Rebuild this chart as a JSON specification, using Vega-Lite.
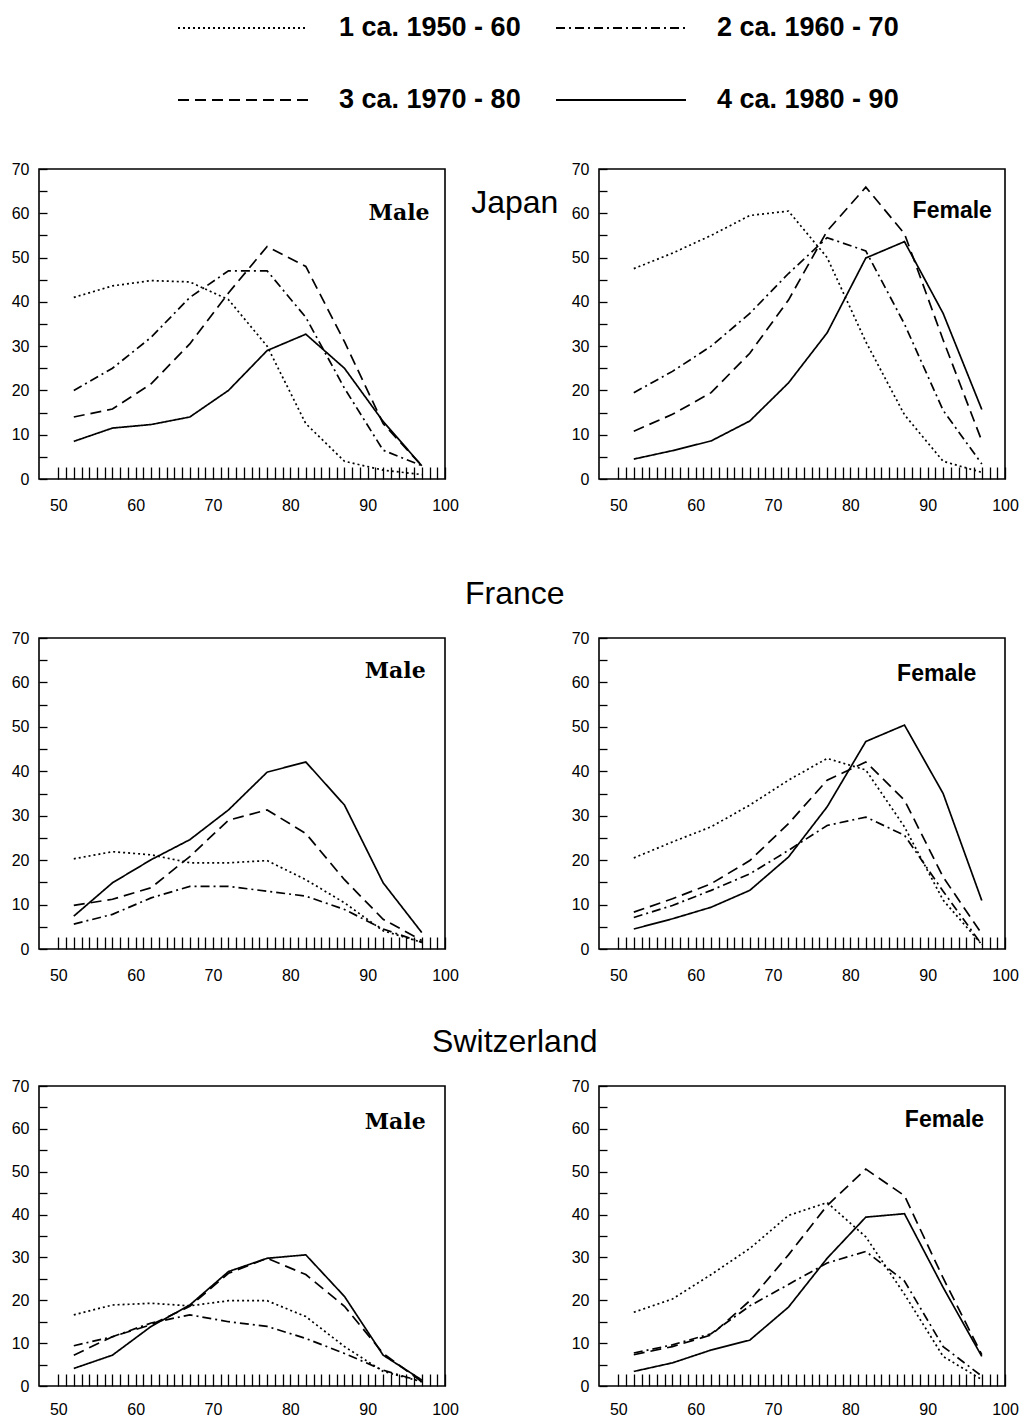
{
  "$schema": "https://vega.github.io/schema/vega-lite/v6.json",
  "padding": {"left": 10, "top": 13, "right": 0, "bottom": 0},
  "background": "white",
  "config": {
    "view": {"stroke": "black", "strokeWidth": 1.6},
    "axis": {"domain": false, "grid": false, "title": null, "format": "d", "labelFont": "Liberation Sans", "labelFontSize": 16, "labelColor": "black", "tickColor": "black", "tickWidth": 1.3, "labelOverlap": false, "labelFlush": false, "tickCount": 200},
    "axisX": {"tickSize": -12, "labelPadding": 30},
    "axisY": {"tickSize": -8, "labelPadding": 18},
    "title": {"font": "Liberation Sans", "fontSize": 32, "fontWeight": "normal", "color": "black"},
    "legend": {"orient": "none", "legendX": 138, "legendY": -156, "columns": 2, "direction": "horizontal", "symbolType": "stroke", "symbolSize": 16900, "symbolStrokeWidth": 2, "symbolStrokeColor": "black", "labelFont": "Liberation Sans", "labelFontSize": 27, "labelFontWeight": "bold", "labelColor": "black", "labelOffset": 30, "columnPadding": 34, "rowPadding": 42, "clipHeight": 30, "labelLimit": 400}
  },
  "resolve": {"scale": {"strokeDash": "shared"}, "legend": {"strokeDash": "shared"}},
  "data": {"values": [
    {"country":"Japan","sex":"Male","period":1,"age":52,"value":41},{"country":"Japan","sex":"Male","period":1,"age":57,"value":43.6},{"country":"Japan","sex":"Male","period":1,"age":62,"value":44.8},{"country":"Japan","sex":"Male","period":1,"age":67,"value":44.5},{"country":"Japan","sex":"Male","period":1,"age":72,"value":40.5},{"country":"Japan","sex":"Male","period":1,"age":77,"value":30},{"country":"Japan","sex":"Male","period":1,"age":82,"value":12.5},{"country":"Japan","sex":"Male","period":1,"age":87,"value":4},{"country":"Japan","sex":"Male","period":1,"age":92,"value":2},{"country":"Japan","sex":"Male","period":1,"age":97,"value":1},
    {"country":"Japan","sex":"Male","period":2,"age":52,"value":20},{"country":"Japan","sex":"Male","period":2,"age":57,"value":25},{"country":"Japan","sex":"Male","period":2,"age":62,"value":32},{"country":"Japan","sex":"Male","period":2,"age":67,"value":41},{"country":"Japan","sex":"Male","period":2,"age":72,"value":47},{"country":"Japan","sex":"Male","period":2,"age":77,"value":47},{"country":"Japan","sex":"Male","period":2,"age":82,"value":36.5},{"country":"Japan","sex":"Male","period":2,"age":87,"value":20.5},{"country":"Japan","sex":"Male","period":2,"age":92,"value":6.5},{"country":"Japan","sex":"Male","period":2,"age":97,"value":3},
    {"country":"Japan","sex":"Male","period":3,"age":52,"value":14},{"country":"Japan","sex":"Male","period":3,"age":57,"value":15.8},{"country":"Japan","sex":"Male","period":3,"age":62,"value":21.5},{"country":"Japan","sex":"Male","period":3,"age":67,"value":30.5},{"country":"Japan","sex":"Male","period":3,"age":72,"value":42},{"country":"Japan","sex":"Male","period":3,"age":77,"value":52.5},{"country":"Japan","sex":"Male","period":3,"age":82,"value":48},{"country":"Japan","sex":"Male","period":3,"age":87,"value":31},{"country":"Japan","sex":"Male","period":3,"age":92,"value":12.5},{"country":"Japan","sex":"Male","period":3,"age":97,"value":3},
    {"country":"Japan","sex":"Male","period":4,"age":52,"value":8.5},{"country":"Japan","sex":"Male","period":4,"age":57,"value":11.5},{"country":"Japan","sex":"Male","period":4,"age":62,"value":12.3},{"country":"Japan","sex":"Male","period":4,"age":67,"value":14},{"country":"Japan","sex":"Male","period":4,"age":72,"value":20},{"country":"Japan","sex":"Male","period":4,"age":77,"value":29},{"country":"Japan","sex":"Male","period":4,"age":82,"value":32.7},{"country":"Japan","sex":"Male","period":4,"age":87,"value":25},{"country":"Japan","sex":"Male","period":4,"age":92,"value":13},{"country":"Japan","sex":"Male","period":4,"age":97,"value":3},
    {"country":"Japan","sex":"Female","period":1,"age":52,"value":47.5},{"country":"Japan","sex":"Female","period":1,"age":57,"value":51},{"country":"Japan","sex":"Female","period":1,"age":62,"value":55},{"country":"Japan","sex":"Female","period":1,"age":67,"value":59.5},{"country":"Japan","sex":"Female","period":1,"age":72,"value":60.5},{"country":"Japan","sex":"Female","period":1,"age":77,"value":50},{"country":"Japan","sex":"Female","period":1,"age":82,"value":31},{"country":"Japan","sex":"Female","period":1,"age":87,"value":14.5},{"country":"Japan","sex":"Female","period":1,"age":92,"value":4},{"country":"Japan","sex":"Female","period":1,"age":97,"value":1.5},
    {"country":"Japan","sex":"Female","period":2,"age":52,"value":19.5},{"country":"Japan","sex":"Female","period":2,"age":57,"value":24.3},{"country":"Japan","sex":"Female","period":2,"age":62,"value":30},{"country":"Japan","sex":"Female","period":2,"age":67,"value":37.4},{"country":"Japan","sex":"Female","period":2,"age":72,"value":46.4},{"country":"Japan","sex":"Female","period":2,"age":77,"value":54.5},{"country":"Japan","sex":"Female","period":2,"age":82,"value":51.5},{"country":"Japan","sex":"Female","period":2,"age":87,"value":35},{"country":"Japan","sex":"Female","period":2,"age":92,"value":15.5},{"country":"Japan","sex":"Female","period":2,"age":97,"value":3.4},
    {"country":"Japan","sex":"Female","period":3,"age":52,"value":10.8},{"country":"Japan","sex":"Female","period":3,"age":57,"value":14.6},{"country":"Japan","sex":"Female","period":3,"age":62,"value":19.5},{"country":"Japan","sex":"Female","period":3,"age":67,"value":28.4},{"country":"Japan","sex":"Female","period":3,"age":72,"value":40.4},{"country":"Japan","sex":"Female","period":3,"age":77,"value":56},{"country":"Japan","sex":"Female","period":3,"age":82,"value":65.9},{"country":"Japan","sex":"Female","period":3,"age":87,"value":55.4},{"country":"Japan","sex":"Female","period":3,"age":92,"value":31.4},{"country":"Japan","sex":"Female","period":3,"age":97,"value":8.6},
    {"country":"Japan","sex":"Female","period":4,"age":52,"value":4.5},{"country":"Japan","sex":"Female","period":4,"age":57,"value":6.4},{"country":"Japan","sex":"Female","period":4,"age":62,"value":8.6},{"country":"Japan","sex":"Female","period":4,"age":67,"value":13.1},{"country":"Japan","sex":"Female","period":4,"age":72,"value":21.7},{"country":"Japan","sex":"Female","period":4,"age":77,"value":33},{"country":"Japan","sex":"Female","period":4,"age":82,"value":49.9},{"country":"Japan","sex":"Female","period":4,"age":87,"value":53.6},{"country":"Japan","sex":"Female","period":4,"age":92,"value":37.4},{"country":"Japan","sex":"Female","period":4,"age":97,"value":15.7},
    {"country":"France","sex":"Male","period":1,"age":52,"value":20.3},{"country":"France","sex":"Male","period":1,"age":57,"value":21.9},{"country":"France","sex":"Male","period":1,"age":62,"value":21.2},{"country":"France","sex":"Male","period":1,"age":67,"value":19.4},{"country":"France","sex":"Male","period":1,"age":72,"value":19.4},{"country":"France","sex":"Male","period":1,"age":77,"value":19.9},{"country":"France","sex":"Male","period":1,"age":82,"value":15.6},{"country":"France","sex":"Male","period":1,"age":87,"value":10.4},{"country":"France","sex":"Male","period":1,"age":92,"value":4.1},{"country":"France","sex":"Male","period":1,"age":97,"value":1.5},
    {"country":"France","sex":"Male","period":2,"age":52,"value":5.6},{"country":"France","sex":"Male","period":2,"age":57,"value":7.8},{"country":"France","sex":"Male","period":2,"age":62,"value":11.5},{"country":"France","sex":"Male","period":2,"age":67,"value":14.1},{"country":"France","sex":"Male","period":2,"age":72,"value":14.1},{"country":"France","sex":"Male","period":2,"age":77,"value":13},{"country":"France","sex":"Male","period":2,"age":82,"value":11.9},{"country":"France","sex":"Male","period":2,"age":87,"value":8.9},{"country":"France","sex":"Male","period":2,"age":92,"value":4.5},{"country":"France","sex":"Male","period":2,"age":97,"value":1.5},
    {"country":"France","sex":"Male","period":3,"age":52,"value":9.8},{"country":"France","sex":"Male","period":3,"age":57,"value":11.2},{"country":"France","sex":"Male","period":3,"age":62,"value":13.8},{"country":"France","sex":"Male","period":3,"age":67,"value":20.8},{"country":"France","sex":"Male","period":3,"age":72,"value":29},{"country":"France","sex":"Male","period":3,"age":77,"value":31.3},{"country":"France","sex":"Male","period":3,"age":82,"value":26},{"country":"France","sex":"Male","period":3,"age":87,"value":15.6},{"country":"France","sex":"Male","period":3,"age":92,"value":6.7},{"country":"France","sex":"Male","period":3,"age":97,"value":1.9},
    {"country":"France","sex":"Male","period":4,"age":52,"value":7.4},{"country":"France","sex":"Male","period":4,"age":57,"value":14.9},{"country":"France","sex":"Male","period":4,"age":62,"value":20.1},{"country":"France","sex":"Male","period":4,"age":67,"value":24.6},{"country":"France","sex":"Male","period":4,"age":72,"value":31.3},{"country":"France","sex":"Male","period":4,"age":77,"value":39.8},{"country":"France","sex":"Male","period":4,"age":82,"value":42.1},{"country":"France","sex":"Male","period":4,"age":87,"value":32.4},{"country":"France","sex":"Male","period":4,"age":92,"value":14.9},{"country":"France","sex":"Male","period":4,"age":97,"value":3.7},
    {"country":"France","sex":"Female","period":1,"age":52,"value":20.5},{"country":"France","sex":"Female","period":1,"age":57,"value":24.1},{"country":"France","sex":"Female","period":1,"age":62,"value":27.5},{"country":"France","sex":"Female","period":1,"age":67,"value":32.4},{"country":"France","sex":"Female","period":1,"age":72,"value":38},{"country":"France","sex":"Female","period":1,"age":77,"value":42.9},{"country":"France","sex":"Female","period":1,"age":82,"value":40.3},{"country":"France","sex":"Female","period":1,"age":87,"value":27.5},{"country":"France","sex":"Female","period":1,"age":92,"value":11},{"country":"France","sex":"Female","period":1,"age":97,"value":1},
    {"country":"France","sex":"Female","period":2,"age":52,"value":7.1},{"country":"France","sex":"Female","period":2,"age":57,"value":9.8},{"country":"France","sex":"Female","period":2,"age":62,"value":13.2},{"country":"France","sex":"Female","period":2,"age":67,"value":16.9},{"country":"France","sex":"Female","period":2,"age":72,"value":22.2},{"country":"France","sex":"Female","period":2,"age":77,"value":27.8},{"country":"France","sex":"Female","period":2,"age":82,"value":29.7},{"country":"France","sex":"Female","period":2,"age":87,"value":25.6},{"country":"France","sex":"Female","period":2,"age":92,"value":13},{"country":"France","sex":"Female","period":2,"age":97,"value":1},
    {"country":"France","sex":"Female","period":3,"age":52,"value":8.3},{"country":"France","sex":"Female","period":3,"age":57,"value":11.3},{"country":"France","sex":"Female","period":3,"age":62,"value":14.7},{"country":"France","sex":"Female","period":3,"age":67,"value":19.9},{"country":"France","sex":"Female","period":3,"age":72,"value":28.2},{"country":"France","sex":"Female","period":3,"age":77,"value":38},{"country":"France","sex":"Female","period":3,"age":82,"value":42.1},{"country":"France","sex":"Female","period":3,"age":87,"value":33.5},{"country":"France","sex":"Female","period":3,"age":92,"value":16.2},{"country":"France","sex":"Female","period":3,"age":97,"value":3.4},
    {"country":"France","sex":"Female","period":4,"age":52,"value":4.5},{"country":"France","sex":"Female","period":4,"age":57,"value":6.8},{"country":"France","sex":"Female","period":4,"age":62,"value":9.4},{"country":"France","sex":"Female","period":4,"age":67,"value":13.2},{"country":"France","sex":"Female","period":4,"age":72,"value":20.7},{"country":"France","sex":"Female","period":4,"age":77,"value":32},{"country":"France","sex":"Female","period":4,"age":82,"value":46.7},{"country":"France","sex":"Female","period":4,"age":87,"value":50.4},{"country":"France","sex":"Female","period":4,"age":92,"value":35},{"country":"France","sex":"Female","period":4,"age":97,"value":10.9},
    {"country":"Switzerland","sex":"Male","period":1,"age":52,"value":16.6},{"country":"Switzerland","sex":"Male","period":1,"age":57,"value":18.9},{"country":"Switzerland","sex":"Male","period":1,"age":62,"value":19.3},{"country":"Switzerland","sex":"Male","period":1,"age":67,"value":18.7},{"country":"Switzerland","sex":"Male","period":1,"age":72,"value":19.9},{"country":"Switzerland","sex":"Male","period":1,"age":77,"value":19.9},{"country":"Switzerland","sex":"Male","period":1,"age":82,"value":16.2},{"country":"Switzerland","sex":"Male","period":1,"age":87,"value":9.2},{"country":"Switzerland","sex":"Male","period":1,"age":92,"value":3.4},{"country":"Switzerland","sex":"Male","period":1,"age":97,"value":1},
    {"country":"Switzerland","sex":"Male","period":2,"age":52,"value":9.4},{"country":"Switzerland","sex":"Male","period":2,"age":57,"value":11.5},{"country":"Switzerland","sex":"Male","period":2,"age":62,"value":14.7},{"country":"Switzerland","sex":"Male","period":2,"age":67,"value":16.6},{"country":"Switzerland","sex":"Male","period":2,"age":72,"value":15},{"country":"Switzerland","sex":"Male","period":2,"age":77,"value":13.9},{"country":"Switzerland","sex":"Male","period":2,"age":82,"value":11.1},{"country":"Switzerland","sex":"Male","period":2,"age":87,"value":7.6},{"country":"Switzerland","sex":"Male","period":2,"age":92,"value":3.7},{"country":"Switzerland","sex":"Male","period":2,"age":97,"value":1},
    {"country":"Switzerland","sex":"Male","period":3,"age":52,"value":7.2},{"country":"Switzerland","sex":"Male","period":3,"age":57,"value":11.5},{"country":"Switzerland","sex":"Male","period":3,"age":62,"value":14.3},{"country":"Switzerland","sex":"Male","period":3,"age":67,"value":18.6},{"country":"Switzerland","sex":"Male","period":3,"age":72,"value":26.3},{"country":"Switzerland","sex":"Male","period":3,"age":77,"value":29.8},{"country":"Switzerland","sex":"Male","period":3,"age":82,"value":26},{"country":"Switzerland","sex":"Male","period":3,"age":87,"value":18.6},{"country":"Switzerland","sex":"Male","period":3,"age":92,"value":7.6},{"country":"Switzerland","sex":"Male","period":3,"age":97,"value":1},
    {"country":"Switzerland","sex":"Male","period":4,"age":52,"value":4.1},{"country":"Switzerland","sex":"Male","period":4,"age":57,"value":7.2},{"country":"Switzerland","sex":"Male","period":4,"age":62,"value":13.9},{"country":"Switzerland","sex":"Male","period":4,"age":67,"value":18.9},{"country":"Switzerland","sex":"Male","period":4,"age":72,"value":26.7},{"country":"Switzerland","sex":"Male","period":4,"age":77,"value":29.8},{"country":"Switzerland","sex":"Male","period":4,"age":82,"value":30.6},{"country":"Switzerland","sex":"Male","period":4,"age":87,"value":20.9},{"country":"Switzerland","sex":"Male","period":4,"age":92,"value":7.2},{"country":"Switzerland","sex":"Male","period":4,"age":97,"value":1.4},
    {"country":"Switzerland","sex":"Female","period":1,"age":52,"value":17.2},{"country":"Switzerland","sex":"Female","period":1,"age":57,"value":20.3},{"country":"Switzerland","sex":"Female","period":1,"age":62,"value":26},{"country":"Switzerland","sex":"Female","period":1,"age":67,"value":32.1},{"country":"Switzerland","sex":"Female","period":1,"age":72,"value":39.8},{"country":"Switzerland","sex":"Female","period":1,"age":77,"value":42.8},{"country":"Switzerland","sex":"Female","period":1,"age":82,"value":34.8},{"country":"Switzerland","sex":"Female","period":1,"age":87,"value":21.4},{"country":"Switzerland","sex":"Female","period":1,"age":92,"value":6.9},{"country":"Switzerland","sex":"Female","period":1,"age":97,"value":1.5},
    {"country":"Switzerland","sex":"Female","period":2,"age":52,"value":7.7},{"country":"Switzerland","sex":"Female","period":2,"age":57,"value":9.6},{"country":"Switzerland","sex":"Female","period":2,"age":62,"value":12.2},{"country":"Switzerland","sex":"Female","period":2,"age":67,"value":18.7},{"country":"Switzerland","sex":"Female","period":2,"age":72,"value":23.7},{"country":"Switzerland","sex":"Female","period":2,"age":77,"value":28.7},{"country":"Switzerland","sex":"Female","period":2,"age":82,"value":31.4},{"country":"Switzerland","sex":"Female","period":2,"age":87,"value":24.5},{"country":"Switzerland","sex":"Female","period":2,"age":92,"value":9.2},{"country":"Switzerland","sex":"Female","period":2,"age":97,"value":2.3},
    {"country":"Switzerland","sex":"Female","period":3,"age":52,"value":7.3},{"country":"Switzerland","sex":"Female","period":3,"age":57,"value":9.2},{"country":"Switzerland","sex":"Female","period":3,"age":62,"value":11.9},{"country":"Switzerland","sex":"Female","period":3,"age":67,"value":19.9},{"country":"Switzerland","sex":"Female","period":3,"age":72,"value":30.6},{"country":"Switzerland","sex":"Female","period":3,"age":77,"value":42.1},{"country":"Switzerland","sex":"Female","period":3,"age":82,"value":50.6},{"country":"Switzerland","sex":"Female","period":3,"age":87,"value":44.4},{"country":"Switzerland","sex":"Female","period":3,"age":92,"value":25.2},{"country":"Switzerland","sex":"Female","period":3,"age":97,"value":7.3},
    {"country":"Switzerland","sex":"Female","period":4,"age":52,"value":3.4},{"country":"Switzerland","sex":"Female","period":4,"age":57,"value":5.4},{"country":"Switzerland","sex":"Female","period":4,"age":62,"value":8.4},{"country":"Switzerland","sex":"Female","period":4,"age":67,"value":10.7},{"country":"Switzerland","sex":"Female","period":4,"age":72,"value":18.4},{"country":"Switzerland","sex":"Female","period":4,"age":77,"value":29.8},{"country":"Switzerland","sex":"Female","period":4,"age":82,"value":39.4},{"country":"Switzerland","sex":"Female","period":4,"age":87,"value":40.2},{"country":"Switzerland","sex":"Female","period":4,"age":92,"value":23},{"country":"Switzerland","sex":"Female","period":4,"age":97,"value":6.9}
  ]},
  "vconcat": [
    {
      "hconcat": [
        {"width": 406, "height": 310, "layer": [
          {"transform": [{"filter": "datum.country === 'Japan' && datum.sex === 'Male'"}], "mark": {"type": "line", "color": "black", "strokeWidth": 1.7},
           "encoding": {
             "x": {"field": "age", "type": "quantitative", "scale": {"domain": [47.5, 100], "nice": false, "zero": false}, "axis": {"values": [50,51,52,53,54,55,56,57,58,59,60,61,62,63,64,65,66,67,68,69,70,71,72,73,74,75,76,77,78,79,80,81,82,83,84,85,86,87,88,89,90,91,92,93,94,95,96,97,98,99,100], "labelExpr": "datum.value % 10 === 0 ? datum.label : ''"}},
             "y": {"field": "value", "type": "quantitative", "scale": {"domain": [0, 70], "nice": false}, "axis": {"values": [0,5,10,15,20,25,30,35,40,45,50,55,60,65,70], "labelExpr": "datum.value % 10 === 0 ? datum.label : ''"}},
             "strokeDash": {"field": "period", "type": "nominal", "scale": {"domain": [1,2,3,4], "range": [[2,3],[9,4,2,4],[11,6],[1,0]]}, "legend": {"title": null, "labelExpr": "['', '1 ca. 1950 - 60', '2 ca. 1960 - 70', '3 ca. 1970 - 80', '4 ca. 1980 - 90'][+datum.label]"}}
           }},
          {"data": {"values": [{}]}, "mark": {"type": "text", "align": "right", "baseline": "middle", "font": "DejaVu Serif", "fontSize": 22, "fontWeight": "bold", "color": "black"},
           "encoding": {"x": {"datum": 98}, "y": {"datum": 60}, "text": {"value": "Male"}}}
        ]},
        {"width": 406, "height": 310, "layer": [
          {"transform": [{"filter": "datum.country === 'Japan' && datum.sex === 'Female'"}], "mark": {"type": "line", "color": "black", "strokeWidth": 1.7},
           "encoding": {
             "x": {"field": "age", "type": "quantitative", "scale": {"domain": [47.5, 100], "nice": false, "zero": false}, "axis": {"values": [50,51,52,53,54,55,56,57,58,59,60,61,62,63,64,65,66,67,68,69,70,71,72,73,74,75,76,77,78,79,80,81,82,83,84,85,86,87,88,89,90,91,92,93,94,95,96,97,98,99,100], "labelExpr": "datum.value % 10 === 0 ? datum.label : ''"}},
             "y": {"field": "value", "type": "quantitative", "scale": {"domain": [0, 70], "nice": false}, "axis": {"values": [0,5,10,15,20,25,30,35,40,45,50,55,60,65,70], "labelExpr": "datum.value % 10 === 0 ? datum.label : ''"}},
             "strokeDash": {"field": "period", "type": "nominal", "scale": {"domain": [1,2,3,4], "range": [[2,3],[9,4,2,4],[11,6],[1,0]]}, "legend": {"title": null, "labelExpr": "['', '1 ca. 1950 - 60', '2 ca. 1960 - 70', '3 ca. 1970 - 80', '4 ca. 1980 - 90'][+datum.label]"}}
           }},
          {"data": {"values": [{}]}, "mark": {"type": "text", "align": "right", "baseline": "middle", "font": "Liberation Sans", "fontSize": 23, "fontWeight": "bold", "color": "black"},
           "encoding": {"x": {"datum": 98.3}, "y": {"datum": 60.5}, "text": {"value": "Female"}}}
        ]}
      ],
      "bounds": "flush", "spacing": 154,
      "title": {"text": "Japan", "anchor": "middle", "offset": -60}
    },
    {
      "vconcat": [
        {
          "hconcat": [
            {"width": 406, "height": 311, "layer": [
              {"transform": [{"filter": "datum.country === 'France' && datum.sex === 'Male'"}], "mark": {"type": "line", "color": "black", "strokeWidth": 1.7},
               "encoding": {
                 "x": {"field": "age", "type": "quantitative", "scale": {"domain": [47.5, 100], "nice": false, "zero": false}, "axis": {"values": [50,51,52,53,54,55,56,57,58,59,60,61,62,63,64,65,66,67,68,69,70,71,72,73,74,75,76,77,78,79,80,81,82,83,84,85,86,87,88,89,90,91,92,93,94,95,96,97,98,99,100], "labelExpr": "datum.value % 10 === 0 ? datum.label : ''"}},
                 "y": {"field": "value", "type": "quantitative", "scale": {"domain": [0, 70], "nice": false}, "axis": {"values": [0,5,10,15,20,25,30,35,40,45,50,55,60,65,70], "labelExpr": "datum.value % 10 === 0 ? datum.label : ''"}},
                 "strokeDash": {"field": "period", "type": "nominal", "scale": {"domain": [1,2,3,4], "range": [[2,3],[9,4,2,4],[11,6],[1,0]]}, "legend": {"title": null, "labelExpr": "['', '1 ca. 1950 - 60', '2 ca. 1960 - 70', '3 ca. 1970 - 80', '4 ca. 1980 - 90'][+datum.label]"}}
               }},
              {"data": {"values": [{}]}, "mark": {"type": "text", "align": "right", "baseline": "middle", "font": "DejaVu Serif", "fontSize": 22, "fontWeight": "bold", "color": "black"},
               "encoding": {"x": {"datum": 97.5}, "y": {"datum": 62.5}, "text": {"value": "Male"}}}
            ]},
            {"width": 406, "height": 311, "layer": [
              {"transform": [{"filter": "datum.country === 'France' && datum.sex === 'Female'"}], "mark": {"type": "line", "color": "black", "strokeWidth": 1.7},
               "encoding": {
                 "x": {"field": "age", "type": "quantitative", "scale": {"domain": [47.5, 100], "nice": false, "zero": false}, "axis": {"values": [50,51,52,53,54,55,56,57,58,59,60,61,62,63,64,65,66,67,68,69,70,71,72,73,74,75,76,77,78,79,80,81,82,83,84,85,86,87,88,89,90,91,92,93,94,95,96,97,98,99,100], "labelExpr": "datum.value % 10 === 0 ? datum.label : ''"}},
                 "y": {"field": "value", "type": "quantitative", "scale": {"domain": [0, 70], "nice": false}, "axis": {"values": [0,5,10,15,20,25,30,35,40,45,50,55,60,65,70], "labelExpr": "datum.value % 10 === 0 ? datum.label : ''"}},
                 "strokeDash": {"field": "period", "type": "nominal", "scale": {"domain": [1,2,3,4], "range": [[2,3],[9,4,2,4],[11,6],[1,0]]}, "legend": {"title": null, "labelExpr": "['', '1 ca. 1950 - 60', '2 ca. 1960 - 70', '3 ca. 1970 - 80', '4 ca. 1980 - 90'][+datum.label]"}}
               }},
              {"data": {"values": [{}]}, "mark": {"type": "text", "align": "right", "baseline": "middle", "font": "Liberation Sans", "fontSize": 23, "fontWeight": "bold", "color": "black"},
               "encoding": {"x": {"datum": 96.3}, "y": {"datum": 62}, "text": {"value": "Female"}}}
            ]}
          ],
          "bounds": "flush", "spacing": 154,
          "title": {"text": "France", "anchor": "middle", "offset": 18}
        },
        {
          "hconcat": [
            {"width": 406, "height": 300, "layer": [
              {"transform": [{"filter": "datum.country === 'Switzerland' && datum.sex === 'Male'"}], "mark": {"type": "line", "color": "black", "strokeWidth": 1.7},
               "encoding": {
                 "x": {"field": "age", "type": "quantitative", "scale": {"domain": [47.5, 100], "nice": false, "zero": false}, "axis": {"values": [50,51,52,53,54,55,56,57,58,59,60,61,62,63,64,65,66,67,68,69,70,71,72,73,74,75,76,77,78,79,80,81,82,83,84,85,86,87,88,89,90,91,92,93,94,95,96,97,98,99,100], "labelExpr": "datum.value % 10 === 0 ? datum.label : ''", "labelPadding": 27}},
                 "y": {"field": "value", "type": "quantitative", "scale": {"domain": [0, 70], "nice": false}, "axis": {"values": [0,5,10,15,20,25,30,35,40,45,50,55,60,65,70], "labelExpr": "datum.value % 10 === 0 ? datum.label : ''"}},
                 "strokeDash": {"field": "period", "type": "nominal", "scale": {"domain": [1,2,3,4], "range": [[2,3],[9,4,2,4],[11,6],[1,0]]}, "legend": {"title": null, "labelExpr": "['', '1 ca. 1950 - 60', '2 ca. 1960 - 70', '3 ca. 1970 - 80', '4 ca. 1980 - 90'][+datum.label]"}}
               }},
              {"data": {"values": [{}]}, "mark": {"type": "text", "align": "right", "baseline": "middle", "font": "DejaVu Serif", "fontSize": 22, "fontWeight": "bold", "color": "black"},
               "encoding": {"x": {"datum": 97.5}, "y": {"datum": 61.5}, "text": {"value": "Male"}}}
            ]},
            {"width": 406, "height": 300, "layer": [
              {"transform": [{"filter": "datum.country === 'Switzerland' && datum.sex === 'Female'"}], "mark": {"type": "line", "color": "black", "strokeWidth": 1.7},
               "encoding": {
                 "x": {"field": "age", "type": "quantitative", "scale": {"domain": [47.5, 100], "nice": false, "zero": false}, "axis": {"values": [50,51,52,53,54,55,56,57,58,59,60,61,62,63,64,65,66,67,68,69,70,71,72,73,74,75,76,77,78,79,80,81,82,83,84,85,86,87,88,89,90,91,92,93,94,95,96,97,98,99,100], "labelExpr": "datum.value % 10 === 0 ? datum.label : ''", "labelPadding": 27}},
                 "y": {"field": "value", "type": "quantitative", "scale": {"domain": [0, 70], "nice": false}, "axis": {"values": [0,5,10,15,20,25,30,35,40,45,50,55,60,65,70], "labelExpr": "datum.value % 10 === 0 ? datum.label : ''"}},
                 "strokeDash": {"field": "period", "type": "nominal", "scale": {"domain": [1,2,3,4], "range": [[2,3],[9,4,2,4],[11,6],[1,0]]}, "legend": {"title": null, "labelExpr": "['', '1 ca. 1950 - 60', '2 ca. 1960 - 70', '3 ca. 1970 - 80', '4 ca. 1980 - 90'][+datum.label]"}}
               }},
              {"data": {"values": [{}]}, "mark": {"type": "text", "align": "right", "baseline": "middle", "font": "Liberation Sans", "fontSize": 23, "fontWeight": "bold", "color": "black"},
               "encoding": {"x": {"datum": 97.3}, "y": {"datum": 62}, "text": {"value": "Female"}}}
            ]}
          ],
          "bounds": "flush", "spacing": 154,
          "title": {"text": "Switzerland", "anchor": "middle", "offset": 18}
        }
      ],
      "spacing": 42
    }
  ],
  "spacing": 64
}
